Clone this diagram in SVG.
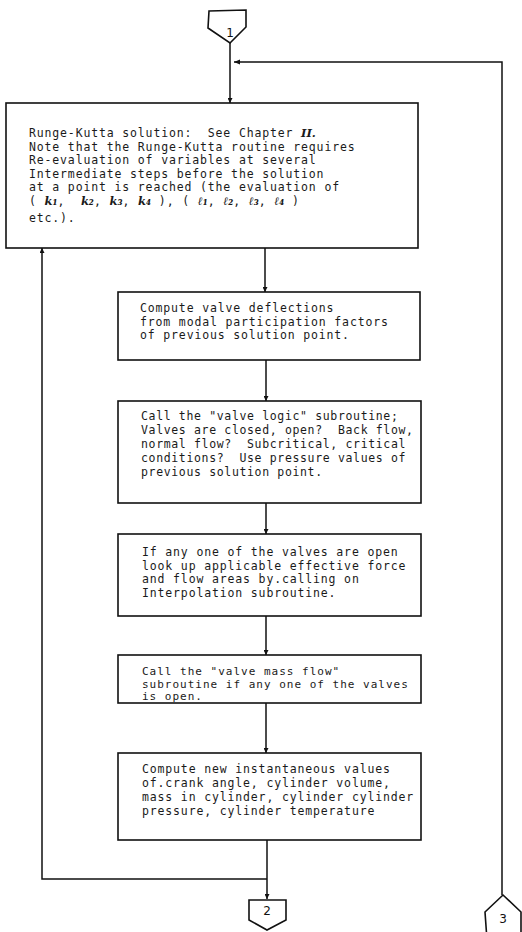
<svg xmlns="http://www.w3.org/2000/svg" width="522" height="932" viewBox="0 0 522 932">
<style>
.box{fill:#fff;stroke:#111;stroke-width:1.6}
.ln{fill:none;stroke:#111;stroke-width:1.5}
.t{font-family:"DejaVu Sans Mono","Liberation Mono",monospace;font-size:11.5px;letter-spacing:0.85px;fill:#1a1a1a;white-space:pre}
.n{letter-spacing:0.65px}
.s{font-size:11px;letter-spacing:1px}
.hw{font-family:"DejaVu Serif","Liberation Serif",serif;font-style:italic;font-weight:bold;letter-spacing:0}
.lbl{font-family:"DejaVu Sans","Liberation Sans",sans-serif;font-size:12px;fill:#111;text-anchor:middle}
</style>
<defs>
<marker id="ah" viewBox="0 0 10 10" refX="10" refY="5" markerWidth="5" markerHeight="5" orient="auto" markerUnits="userSpaceOnUse">
<path d="M0,0 L10,5 L0,10 z" fill="#111"/>
</marker>
<marker id="ahs" viewBox="0 0 10 10" refX="10" refY="5" markerWidth="6" markerHeight="6" orient="auto" markerUnits="userSpaceOnUse">
<path d="M0,1 L10,5 L0,9 z" fill="#111"/>
</marker>
</defs>
<rect width="522" height="932" fill="#fff"/>

<g id="connectors">
<path class="ln" d="M230,43 L230,103" marker-end="url(#ah)"/>
<path class="ln" d="M502,895 L502,62 L234,62" marker-end="url(#ahs)"/>
<path class="ln" d="M265,248 L265,292" marker-end="url(#ah)"/>
<path class="ln" d="M266,360 L266,401" marker-end="url(#ah)"/>
<path class="ln" d="M266,503 L266,534" marker-end="url(#ah)"/>
<path class="ln" d="M266,616 L266,655" marker-end="url(#ah)"/>
<path class="ln" d="M266,703 L266,753" marker-end="url(#ah)"/>
<path class="ln" d="M267,840 L267,899" marker-end="url(#ah)"/>
<path class="ln" d="M267,879 L42,879 L42,248" marker-end="url(#ah)"/>
</g>

<g id="conn1">
<polygon class="box" points="209,11 246,10 246,27 230,43 208,28"/>
<text class="lbl" x="230" y="37">1</text>
</g>

<g id="box1">
<rect class="box" x="6" y="103" width="412" height="145"/>
<text class="t" x="29" y="137">Runge-Kutta solution:  See Chapter <tspan class="hw">II.</tspan></text>
<text class="t" x="29" y="150.5">Note that the Runge-Kutta routine requires</text>
<text class="t" x="29" y="164">Re-evaluation of variables at several</text>
<text class="t" x="29" y="177.5">Intermediate steps before the solution</text>
<text class="t" x="29" y="191">at a point is reached (the evaluation of</text>
<text class="t" x="29" y="205">( <tspan class="hw">k₁</tspan>,  <tspan class="hw">k₂</tspan>, <tspan class="hw">k₃</tspan>, <tspan class="hw">k₄</tspan> ), ( <tspan class="hw">ℓ₁</tspan>, <tspan class="hw">ℓ₂</tspan>, <tspan class="hw">ℓ₃</tspan>, <tspan class="hw">ℓ₄</tspan> )</text>
<text class="t" x="29" y="222">etc.).</text>
</g>

<g id="box2">
<rect class="box" x="118" y="292" width="302" height="68"/>
<text class="t" x="140" y="312">Compute valve deflections</text>
<text class="t" x="140" y="325.5">from modal participation factors</text>
<text class="t" x="140" y="339">of previous solution point.</text>
</g>

<g id="box3">
<rect class="box" x="118" y="401" width="303" height="102"/>
<text class="t n" x="141" y="420">Call the "valve logic" subroutine;</text>
<text class="t n" x="141" y="434">Valves are closed, open?  Back flow,</text>
<text class="t n" x="141" y="448">normal flow?  Subcritical, critical</text>
<text class="t n" x="141" y="462">conditions?  Use pressure values of</text>
<text class="t n" x="141" y="476">previous solution point.</text>
</g>

<g id="box4">
<rect class="box" x="118" y="534" width="303" height="82"/>
<text class="t" x="142" y="556">If any one of the valves are open</text>
<text class="t" x="142" y="569.5">look up applicable effective force</text>
<text class="t" x="142" y="583">and flow areas by.calling on</text>
<text class="t" x="142" y="596.5">Interpolation subroutine.</text>
</g>

<g id="box5">
<rect class="box" x="118" y="655" width="303" height="48"/>
<text class="t s" x="142" y="675">Call the "valve mass flow"</text>
<text class="t s" x="142" y="687.5">subroutine if any one of the valves</text>
<text class="t s" x="142" y="700">is open.</text>
</g>

<g id="box6">
<rect class="box" x="118" y="753" width="303" height="87"/>
<text class="t" x="142" y="773">Compute new instantaneous values</text>
<text class="t" x="142" y="787">of.crank angle, cylinder volume,</text>
<text class="t" x="142" y="801">mass in cylinder, cylinder cylinder</text>
<text class="t" x="142" y="815">pressure, cylinder temperature</text>
</g>

<g id="conn2">
<polygon class="box" points="249,900 286,900 286,920 267,930 249,920"/>
<text class="lbl" x="267" y="915">2</text>
</g>

<g id="conn3">
<polygon class="box" points="503,895 521,912 521,940 487,940 485,912"/>
<text class="lbl" x="503" y="923">3</text>
</g>
</svg>
